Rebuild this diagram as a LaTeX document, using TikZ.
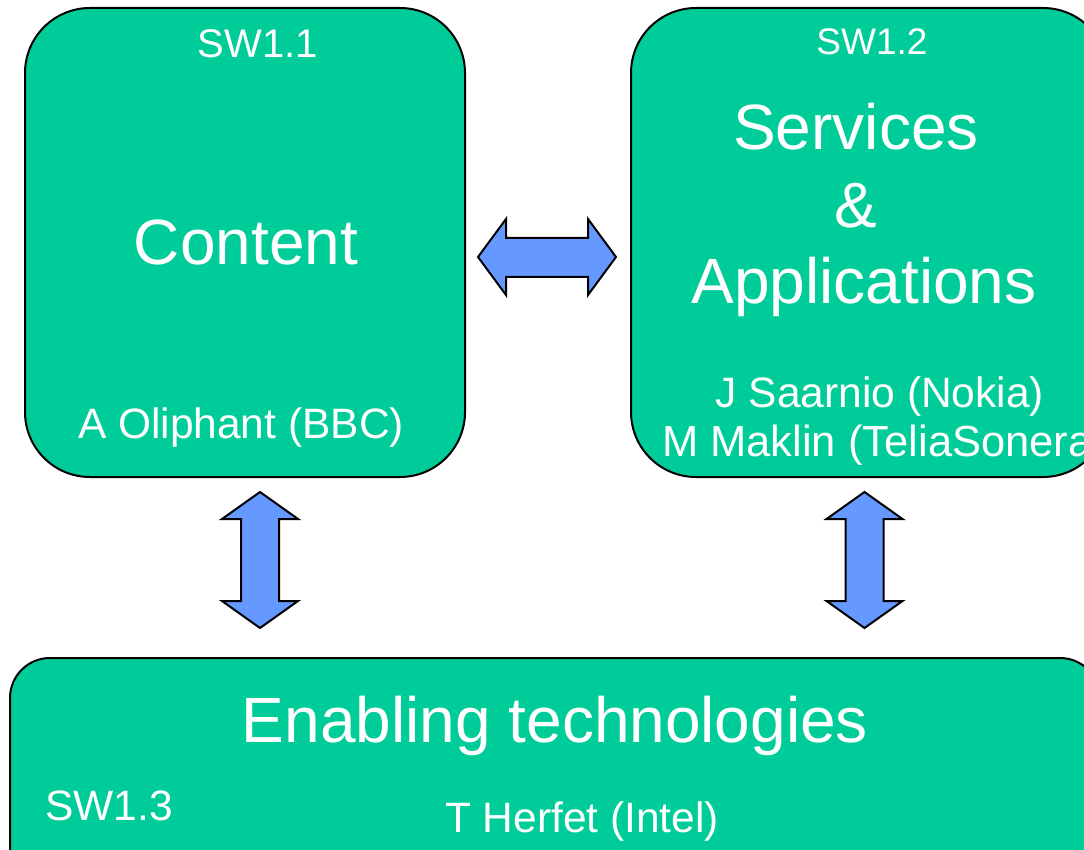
\documentclass[tikz,border=0pt]{standalone}
\usepackage{fontspec}
\setmainfont{Liberation Sans}
\definecolor{boxgreen}{HTML}{00CC99}
\definecolor{arrowblue}{HTML}{6699FF}
\tikzset{
  greenbox/.style={fill=boxgreen, draw=black, line width=2pt},
  blockarrow/.style={fill=arrowblue, draw=black, line width=2pt, line join=miter},
  wlabel/.style={text=white, inner sep=0pt, anchor=base},
  bigtext/.style={wlabel, font=\fontsize{64}{70}\selectfont},
  swtext/.style={wlabel, font=\fontsize{40}{46}\selectfont},
  nametext/.style={wlabel, font=\fontsize{42.5}{48}\selectfont},
}
\begin{document}
\begin{tikzpicture}[x=1pt,y=-1pt]
\useasboundingbox (0,0) rectangle (1084,850);
\clip (0,0) rectangle (1084,850);
% boxes
\draw[greenbox, rounded corners=65pt] (25,8) rectangle (465,477);
\draw[greenbox, rounded corners=65pt] (631,8) rectangle (1108,477);
\draw[greenbox, rounded corners=40pt] (10,658) rectangle (1100,890);
% labels left box
\node[swtext] (sw11) at (258,58) {SW1.1};
\node[bigtext] (content) at (246,265) {Content};
\node[nametext] (oli) at (241,438) {A Oliphant (BBC)};
% labels right box
\node[swtext, font=\fontsize{37}{42}\selectfont] (sw12) at (872,55) {SW1.2};
\node[bigtext] (serv) at (856,150) {Services};
\node[bigtext] (amp) at (856,228) {\&};
\node[bigtext] (apps) at (864,303) {Applications};
\node[nametext] (saar) at (880,407) {J Saarnio (Nokia)};
\node[nametext, anchor=base west, font=\fontsize{43.5}{48}\selectfont] (makl) at (662,456) {M Maklin (TeliaSonera)};
% labels bottom box
\node[bigtext] (enab) at (555,742) {Enabling technologies};
\node[nametext] (sw13) at (109,820) {SW1.3};
\node[nametext] (herf) at (582,832) {T Herfet (Intel)};
% block arrows
\draw[blockarrow] (478,257) -- (506,219) -- (506,238) -- (588,238) -- (588,219) -- (616,257)
  -- (588,295) -- (588,277) -- (506,277) -- (506,295) -- cycle;
\foreach \cx in {260,864.5}{
  \draw[blockarrow] (\cx,492) -- (\cx+38,519) -- (\cx+19,519) -- (\cx+19,601) -- (\cx+38,601)
    -- (\cx,628) -- (\cx-38,601) -- (\cx-19,601) -- (\cx-19,519) -- (\cx-38,519) -- cycle;
}
\end{tikzpicture}
\end{document}
